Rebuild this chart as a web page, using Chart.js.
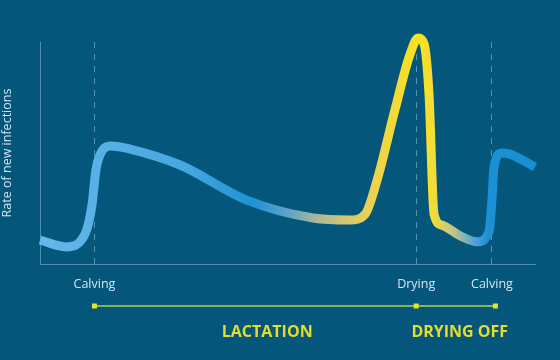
<!DOCTYPE html>
<html>
<head>
<meta charset="utf-8">
<script src="https://cdn.jsdelivr.net/npm/chart.js@4"></script>
<style>
html,body{margin:0;padding:0;background:#04567a;}
#wrap{width:560px;height:360px;position:relative;}
</style>
</head>
<body>
<div id="wrap"><canvas id="c" width="560" height="360"></canvas></div>
<script>
// ---- data ----
const curveX = [0, 5.25, 9.1, 10.5, 11.3, 12.3, 14.5, 18.2, 28.3, 41.8, 55.2, 62.6, 65.7, 68.1, 71.7, 74.7, 76.4, 77.6, 78.6, 79.6, 81.2, 85.3, 88.3, 90.7, 91.3, 91.7, 93.3, 94.9, 100];
const curveY = [10.8, 7.7, 13.5, 26.6, 42.3, 50, 53.2, 51.8, 44.6, 28.8, 20.7, 19.8, 22.5, 37.8, 69.4, 94.1, 101.8, 99.1, 76, 22.5, 17.5, 12.2, 10, 14.4, 28.8, 43.2, 50, 49.5, 43.7];
const tickValues = [11, 76, 91.3];
const tickLabels = ['Calving', 'Drying', 'Calving'];
const timelineMarks = [11, 76, 92];
const phaseLabels = ['LACTATION', 'DRYING OFF'];
const phaseCenters = [45.9, 84.8];
const yTitle = 'Rate of new infections';

// gradient stops along x (data units) -> colour
const gradStops = [
  [0, '#64b8ea'], [30, '#44a6e0'], [43, '#1e92d4'], [50, '#5ea2c8'],
  [56.5, '#b0ba92'], [63, '#dcca68'], [68.5, '#eed448'], [76.5, '#f9e21c'],
  [79.5, '#f2dc38'], [83.5, '#c0c48c'], [87.5, '#58a4d6'], [90.5, '#1c90d4'], [100, '#1a8ed2']
];

const points = curveX.map((x, i) => ({x: x, y: curveY[i]}));

function lineGradient(ctx) {
  const chart = ctx.chart;
  const area = chart.chartArea;
  if (!area) return '#5ab0e4';
  const xs = chart.scales.x;
  const x0 = xs.getPixelForValue(0), x1 = xs.getPixelForValue(100);
  const g = chart.ctx.createLinearGradient(x0, 0, x1, 0);
  gradStops.forEach(s => g.addColorStop(s[0] / 100, s[1]));
  return g;
}

const phasePlugin = {
  id: 'phases',
  afterDraw(chart) {
    const c = chart.ctx;
    const xs = chart.scales.x;
    const yLine = 306;
    c.save();
    c.strokeStyle = '#b9cf4a';
    c.lineWidth = 1.5;
    c.beginPath();
    c.moveTo(xs.getPixelForValue(timelineMarks[0]), yLine);
    c.lineTo(xs.getPixelForValue(timelineMarks[timelineMarks.length - 1]), yLine);
    c.stroke();
    c.fillStyle = '#e9e22a';
    timelineMarks.forEach(v => {
      const px = xs.getPixelForValue(v);
      c.fillRect(px - 2.5, yLine - 2.5, 5, 5);
    });
    c.fillStyle = '#e6dc2c';
    c.font = '700 16px "Open Sans"';
    c.textAlign = 'center';
    c.textBaseline = 'middle';
    phaseLabels.forEach((t, i) => {
      c.fillText(t, xs.getPixelForValue(phaseCenters[i]), 332);
    });
    c.restore();
  }
};

new Chart(document.getElementById('c'), {
  type: 'line',
  data: {
    datasets: [{
      data: points,
      borderColor: lineGradient,
      borderWidth: 9,
      borderCapStyle: 'butt',
      borderJoinStyle: 'round',
      pointRadius: 0,
      fill: false,
      cubicInterpolationMode: 'monotone',
      clip: false
    }]
  },
  options: {
    responsive: false,
    animation: false,
    events: [],
    layout: {padding: {top: 42, right: 25, bottom: 0, left: 0}},
    plugins: {legend: {display: false}, tooltip: {enabled: false}},
    scales: {
      x: {
        type: 'linear',
        min: 0, max: 100,
        afterFit(s) { s.height = 96; },
        afterBuildTicks(s) { s.ticks = tickValues.map(v => ({value: v})); },
        ticks: {
          autoSkip: false,
          maxRotation: 0,
          padding: 13,
          color: '#d4e6f1',
          font: {family: 'Open Sans', size: 12.5},
          callback: (v, i) => tickLabels[i]
        },
        grid: {
          display: true,
          drawTicks: false,
          color: 'rgba(160,200,220,0.55)',
          lineWidth: 1
        },
        border: {display: true, color: '#4f8fae', width: 1, dash: [6, 6]}
      },
      y: {
        min: 0, max: 100,
        afterFit(s) { s.width = 40; },
        ticks: {display: false},
        grid: {display: false, drawTicks: false},
        border: {display: true, color: '#4f8fae', width: 1},
        title: {
          display: true,
          text: yTitle,
          color: '#d4e6f1',
          font: {family: 'Open Sans', size: 12.5},
          padding: {top: 0, bottom: 0}
        }
      }
    }
  },
  plugins: [phasePlugin]
});
</script>
</body>
</html>
